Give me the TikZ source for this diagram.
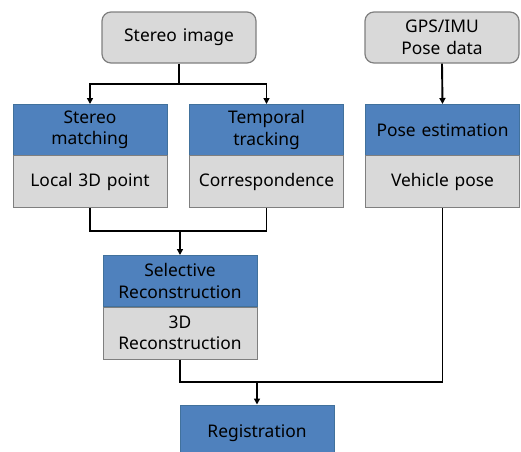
\documentclass[tikz,border=0pt]{standalone}
\usepackage{fontspec}
\setmainfont{Noto Sans}
\usetikzlibrary{arrows.meta}
\definecolor{hblue}{HTML}{4F81BD}
\definecolor{hblueb}{HTML}{41719C}
\definecolor{hgray}{HTML}{D9D9D9}
\definecolor{hgrayb}{HTML}{7F7F7F}
\tikzset{
  base/.style={minimum width=154pt, text width=152pt, align=center, inner sep=0pt, font=\fontsize{17.4}{21.5}\selectfont, line width=1pt},
  bluebox/.style={base, fill=hblue, draw=hblueb, minimum height=51pt},
  graybox/.style={base, fill=hgray, draw=hgrayb, minimum height=52pt},
  srcbox/.style={base, fill=hgray, draw=hgrayb, minimum height=51pt, rounded corners=9pt, line width=1.2pt},
  conn/.style={line width=1.9pt, black},
  arr/.style={conn, -{Triangle[length=6pt,width=6pt]}}
}
\begin{document}
\begin{tikzpicture}[x=1pt,y=-1pt]
\useasboundingbox (0,0) rectangle (521,451);
\clip (0,0) rectangle (521,451);
\node[srcbox] (si) at (179,37.5) {Stereo image};
\node[srcbox] (gps) at (442,37.5) {GPS/IMU\\Pose data};
\node[bluebox] (sm) at (90,130) {Stereo\\matching};
\node[graybox] (lp) at (90,181.5) {Local 3D point};
\node[bluebox] (tt) at (266.5,130) {Temporal\\tracking};
\node[graybox] (co) at (266.5,181.5) {Correspondence};
\node[bluebox] (pe) at (442.5,130) {Pose estimation};
\node[graybox] (vp) at (442.5,181.5) {Vehicle pose};
\node[bluebox] (sr) at (180,281) {Selective\\Reconstruction};
\node[graybox] (rc) at (180,333) {3D\\Reconstruction};
\node[bluebox, minimum height=56pt] (rg) at (257,433) {Registration};
\coordinate (j1) at (179,84);
\coordinate (j2) at (180,231);
\coordinate (j3) at (257,382);
\draw[conn] (si.south) -- (j1);
\draw[arr] (j1) -| (sm.north);
\draw[arr] (j1) -| (tt.north);
\draw[arr] (gps.south) -- (pe.north);
\draw[conn] (lp.south) |- (j2);
\draw[conn] (co.south) |- (j2);
\draw[arr] (j2) -- (sr.north);
\draw[conn] (rc.south) |- (j3);
\draw[conn] (vp.south) |- (j3);
\draw[arr] (j3) -- (rg.north);
\end{tikzpicture}
\end{document}
